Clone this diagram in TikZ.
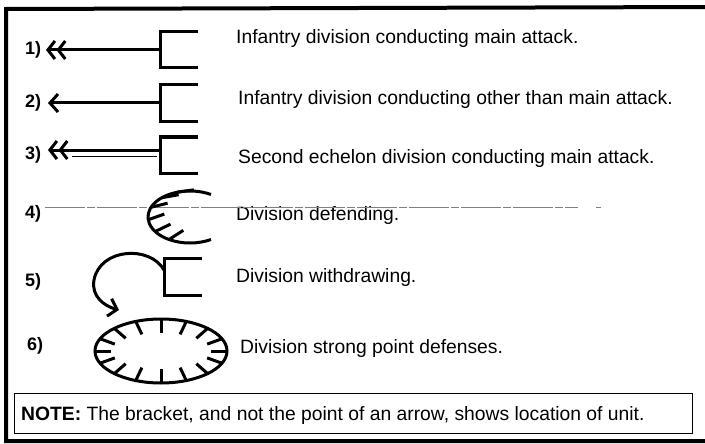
\documentclass[tikz,border=0pt]{standalone}
\usepackage{fontspec}
\setmainfont{Liberation Sans}
\usetikzlibrary{arrows.meta,calc}

\begin{document}
\begin{tikzpicture}[x=1pt, y=-1pt,
    sym/.style={line width=3pt},
    barb/.style={-{Straight Barb[length=8pt,width=18pt,line width=3pt]}},
    dbarb/.style={-{Straight Barb[length=7pt,width=18pt,line width=3pt]Straight Barb[length=7pt,width=18pt,line width=3pt]}},
    lbl/.style={anchor=base west, inner sep=0pt, font=\fontsize{19.3}{22}\selectfont},
    num/.style={anchor=base west, inner sep=0pt, font=\bfseries\fontsize{18}{22}\selectfont}]
    \useasboundingbox (0,0) rectangle (705,444);

    % Frame
    \draw[line width=4pt] (712,7) -- (6,9) -- (6,441) -- (712,441);

    % Row numbers
    \node[num] (n1) at (25,55) {1)};
    \node[num] (n2) at (25,108) {2)};
    \node[num] (n3) at (25,160) {3)};
    \node[num] (n4) at (25,218) {4)};
    \node[num] (n5) at (25,286) {5)};
    \node[num] (n6) at (27,350) {6)};

    % Texts
    \node[lbl] (t1) at (236,44) {Infantry division conducting main attack.};
    \node[lbl] (t2) at (238,105) {Infantry division conducting other than main attack.};
    \node[lbl] (t3) at (238,163) {Second echelon division conducting main attack.};
    \node[lbl] (t4) at (236,220) {Division defending.};
    \node[lbl] (t5) at (236,282) {Division withdrawing.};
    \node[lbl] (t6) at (240,353) {Division strong point defenses.};

    % Brackets
    \draw[sym] (198,32) -- (160,32) -- (160,68) -- (198,68);
    \draw[sym] (198,85) -- (160,85) -- (160,122) -- (198,122);
    \draw[sym] (198,137) -- (160,137) -- (160,173) -- (198,173);
    \draw[sym] (202,258) -- (164,258) -- (164,295) -- (202,295);

    % Attack arrows
    \coordinate (a1) at (160,50);  \coordinate (p1) at (46,50);
    \coordinate (a2) at (160,103); \coordinate (p2) at (48,103);
    \coordinate (a3) at (160,150); \coordinate (p3) at (48,150);
    \draw[sym, dbarb] (a1) -- (p1);
    \draw[sym, barb] (a2) -- (p2);
    \draw[sym, dbarb] (a3) -- (p3);
    \draw[line width=1pt] (157,156) -- (72,156);

    % Defending
    \draw[gray, line width=0.5pt, dash pattern=on 40pt off 2pt on 8pt off 2pt] (45,207) -- (578,207);
    \draw[gray, line width=0.5pt] (596,207) -- (601,207);
    \coordinate (d0) at (190,217);
    \coordinate (df) at (262,180);
    \draw[sym] ([shift={(d0)}]-60:42 and 26) arc[start angle=-60, end angle=-300, x radius=42, y radius=26];
    \foreach \a in {-108,-132,-158,-186,-214,-240}
        \draw[sym] ([shift={(d0)}]\a:42 and 26) -- ($([shift={(d0)}]\a:42 and 26)!17pt!(df)$);

    % Withdrawing
    \coordinate (w0) at (164,270);
    \coordinate (w1) at (119,310);
    \draw[sym, barb] (w0) .. controls (150,245) and (100,248) .. (94,280)
        .. controls (91,296) and (104,306) .. (w1);

    % Strong point
    \coordinate (s0) at (161,351);
    \draw[sym] (s0) ellipse[x radius=66, y radius=32];
    \foreach \a in {0,22.5,...,337.5}
        \draw[sym] ([shift={(s0)}]\a:66 and 32) -- ([shift={(s0)}]\a:50 and 18);

    % Note
    \draw[line width=0.9pt] (14,393) rectangle (692,433);
    \node[lbl] (note) at (21,420)
        {\textbf{NOTE:} The bracket, and not the point of an arrow, shows location of unit.};
\end{tikzpicture}
\end{document}
